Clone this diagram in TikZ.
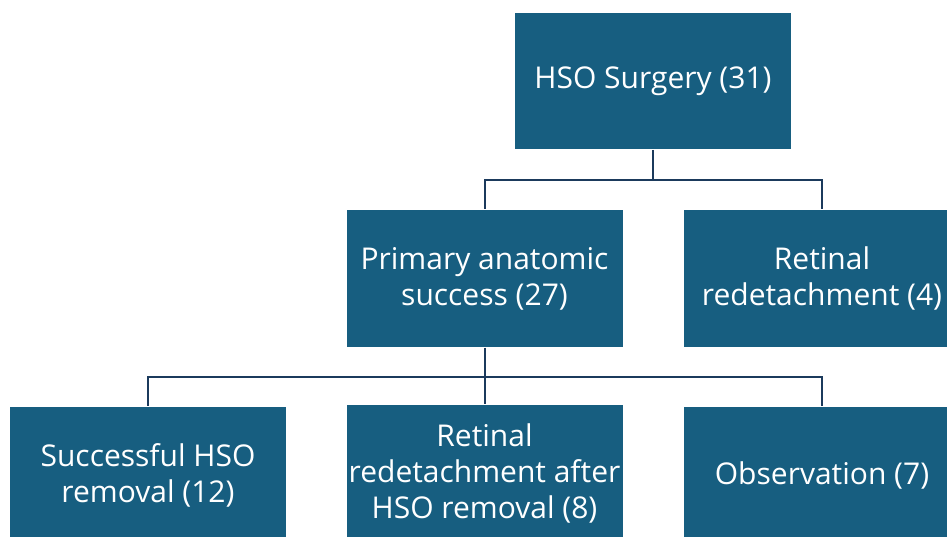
\documentclass[tikz,border=0pt]{standalone}
\usepackage{fontspec}
\setmainfont{Open Sans}
\usepackage{tikz}
\usetikzlibrary{positioning}

\definecolor{boxblue}{HTML}{175E80}
\definecolor{linenavy}{HTML}{1B3A5C}

\begin{document}
\begin{tikzpicture}
	[x=1pt,y=-1pt,line width=2pt]
	\tikzstyle{every node}=[fill=boxblue,draw=none,text=white,align=center,
		minimum width=276pt,minimum height=136pt,inner sep=0pt,
		font=\fontsize{30}{36}\selectfont]
	\tikzstyle{link}=[draw=linenavy,line width=2pt]

	\useasboundingbox (0,0) rectangle (947,537);
	\clip (0,0) rectangle (947,537);

	\node (hso)   at (653,81)    {HSO Surgery (31)};
	\node (pas)   at (484.5,278.5) {Primary anatomic\\success (27)};
	\node (rrd)   at (822,278.5)   {Retinal\\redetachment (4)};
	\node (shr)   at (148,475)   {Successful HSO\\removal (12)};
	\node (rda)   at (484.5,473) {Retinal\\redetachment after\\HSO removal (8)};
	\node (obs)   at (822,475)   {Observation (7)};

	\coordinate (j1) at (653,180);
	\coordinate (j2) at (484.5,377);

	\path[link] (hso.south) -- (j1)
		(j1) -| (pas.north)
		(j1) -| (rrd.north)
		(pas.south) -- (j2)
		(j2) -| (shr.north)
		(j2) -- (rda.north)
		(j2) -| (obs.north);
\end{tikzpicture}
\end{document}
